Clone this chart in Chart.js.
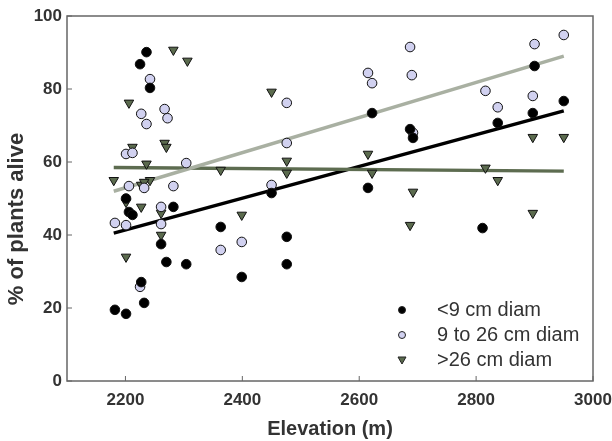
<!DOCTYPE html>
<html>
<head>
<meta charset="utf-8">
<script src="https://cdn.jsdelivr.net/npm/chart.js@4/dist/chart.umd.min.js"></script>
<style>
  html, body { margin: 0; padding: 0; background: #fff; }
  #wrap { width: 612px; height: 441px; }
</style>
</head>
<body>
<div id="wrap"><canvas id="plantChart" width="612" height="441"></canvas></div>
<script>
// Data
const smallX = [2182, 2201, 2225, 2236, 2242, 2227, 2232, 2201, 2206, 2212, 2261, 2270, 2282, 2304, 2363, 2399, 2450, 2476, 2476, 2615, 2622, 2687, 2692, 2811, 2837, 2897, 2900, 2950];
const smallY = [19.5, 18.4, 86.8, 90.1, 80.3, 27.1, 21.4, 50, 46.3, 45.5, 37.5, 32.6, 47.7, 32, 42.2, 28.5, 51.5, 39.5, 32, 52.9, 73.4, 69, 66.6, 41.9, 70.7, 73.4, 86.3, 76.7];

const midX = [2242, 2227, 2236, 2267, 2272, 2201, 2212, 2304, 2206, 2232, 2282, 2182, 2201, 2261, 2261, 2225, 2363, 2399, 2476, 2476, 2450, 2615, 2622, 2687, 2690, 2692, 2900, 2950, 2816, 2837, 2897];
const midY = [82.7, 73.2, 70.4, 74.5, 72, 62.2, 62.5, 59.7, 53.4, 52.9, 53.4, 43.3, 42.7, 47.7, 43, 25.8, 35.9, 38.1, 76.2, 65.2, 53.7, 84.4, 81.6, 91.5, 83.8, 68, 92.3, 94.8, 79.5, 75, 78.1];

const bigX = [2282, 2306, 2206, 2212, 2267, 2270, 2236, 2363, 2180, 2227, 2242, 2232, 2227, 2261, 2261, 2201, 2201, 2399, 2450, 2476, 2476, 2615, 2622, 2692, 2687, 2897, 2950, 2816, 2837, 2897];
const bigY = [90.7, 87.7, 76.2, 64.1, 65.2, 64.1, 59.5, 57.8, 55, 53.7, 55, 54.5, 47.7, 46, 40, 34, 49, 45.5, 79.2, 60.3, 57, 62.2, 57, 51.8, 42.7, 66.8, 66.8, 58.4, 55, 46];

// regression line end points
const fitX = [2180, 2950];
const fitSmall = [40.5, 74];
const fitMid = [52, 89];
const fitBig = [58.5, 57.5];

const seriesLabels = ['<9 cm diam', '9 to 26 cm diam', '>26 cm diam'];
const xTicks = [2200, 2400, 2600, 2800, 3000];
const yTicks = [0, 20, 40, 60, 80, 100];
const yTitle = '% of plants alive';

const FONT = '"Liberation Sans", Arial, sans-serif';
const TEXT = '#333';

function pts(xs, ys) {
  return xs.map((x, i) => ({ x: x, y: ys[i] }));
}

const styles = [
  { bg: '#000000', shape: 'circle', rot: 0 },
  { bg: '#d1d1f0', shape: 'circle', rot: 0 },
  { bg: '#5b6b4e', shape: 'triangle', rot: 180 }
];

// frame, inward ticks, y title and the legend inside the plot
const framePlugin = {
  id: 'frame',
  afterDraw(chart) {
    const c = chart.ctx;
    const a = chart.chartArea;
    c.save();
    c.strokeStyle = '#666';
    c.lineWidth = 1.5;
    c.strokeRect(a.left, a.top, a.right - a.left, a.bottom - a.top);
    c.lineWidth = 1;
    xTicks.forEach(v => {
      const px = chart.scales.x.getPixelForValue(v);
      c.beginPath(); c.moveTo(px, a.bottom); c.lineTo(px, a.bottom - 5); c.stroke();
    });
    yTicks.forEach(v => {
      const py = chart.scales.y.getPixelForValue(v);
      c.beginPath(); c.moveTo(a.left, py); c.lineTo(a.left + 5, py); c.stroke();
    });

    // y axis title, sits a bit below the middle like the original
    c.save();
    c.translate(17, 219);
    c.rotate(-Math.PI / 2);
    c.font = 'bold 22px ' + FONT;
    c.fillStyle = TEXT;
    c.textAlign = 'center';
    c.textBaseline = 'middle';
    c.fillText(yTitle, 0, 0);
    c.restore();

    // legend
    const lx = a.right - 191;
    const ly = a.bottom - 71;
    c.font = '20px ' + FONT;
    c.textBaseline = 'middle';
    seriesLabels.forEach((lab, i) => {
      const y = ly + i * 25;
      const s = styles[i];
      c.fillStyle = s.bg;
      c.strokeStyle = '#222';
      c.lineWidth = 1;
      if (s.shape === 'circle') {
        c.beginPath(); c.arc(lx, y, 3.5, 0, Math.PI * 2); c.fill(); c.stroke();
      } else {
        c.beginPath(); c.moveTo(lx - 4, y - 3); c.lineTo(lx + 4, y - 3); c.lineTo(lx, y + 4); c.closePath(); c.fill(); c.stroke();
      }
      c.fillStyle = TEXT;
      c.fillText(lab, lx + 35, y);
    });
    c.restore();
  }
};

function scatterSet(i, xs, ys) {
  return {
    type: 'scatter',
    label: seriesLabels[i],
    data: pts(xs, ys),
    backgroundColor: styles[i].bg,
    borderColor: '#111',
    borderWidth: 1,
    pointStyle: styles[i].shape,
    rotation: styles[i].rot,
    pointRadius: styles[i].shape === 'triangle' ? 5.5 : 4.8,
    order: i
  };
}

function fitSet(ys, color, ord) {
  return {
    type: 'line',
    data: pts(fitX, ys),
    borderColor: color,
    borderWidth: 3.5,
    pointRadius: 0,
    fill: false,
    order: ord
  };
}

const ctx = document.getElementById('plantChart').getContext('2d');
const plantChart = new Chart(ctx, {
  type: 'scatter',
  data: {
    datasets: [
      scatterSet(0, smallX, smallY),
      scatterSet(1, midX, midY),
      scatterSet(2, bigX, bigY),
      fitSet(fitMid, '#a9b0a2', 3),
      fitSet(fitBig, '#5d6c50', 4),
      fitSet(fitSmall, '#000000', 5)
    ]
  },
  options: {
    responsive: false,
    animation: false,
    layout: { padding: { top: 16, right: 19, left: 0, bottom: 0 } },
    plugins: {
      legend: { display: false },
      tooltip: { enabled: false }
    },
    scales: {
      x: {
        type: 'linear',
        min: 2100,
        max: 3000,
        afterBuildTicks: axis => { axis.ticks = xTicks.map(v => ({ value: v })); },
        afterFit: scale => {
          scale.height = 60;
          scale.paddingLeft = 0;
          scale.paddingRight = 0;
        },
        grid: { display: false, drawTicks: false },
        border: { display: false },
        ticks: {
          padding: 9,
          color: TEXT,
          font: { family: FONT, size: 17, weight: 'bold' },
          maxRotation: 0,
          callback: v => String(v)
        },
        title: {
          display: true,
          text: 'Elevation (m)',
          color: TEXT,
          font: { family: FONT, size: 20, weight: 'bold' },
          padding: { top: 0, bottom: 0 }
        }
      },
      y: {
        min: 0,
        max: 100,
        afterBuildTicks: axis => { axis.ticks = yTicks.map(v => ({ value: v })); },
        afterFit: scale => {
          scale.width = 67;
          scale.paddingTop = 0;
          scale.paddingBottom = 0;
        },
        grid: { display: false, drawTicks: false },
        border: { display: false },
        ticks: {
          padding: 5,
          color: TEXT,
          font: { family: FONT, size: 17, weight: 'bold' },
          callback: v => String(v)
        },
        title: { display: false }
      }
    }
  },
  plugins: [framePlugin]
});
</script>
</body>
</html>
